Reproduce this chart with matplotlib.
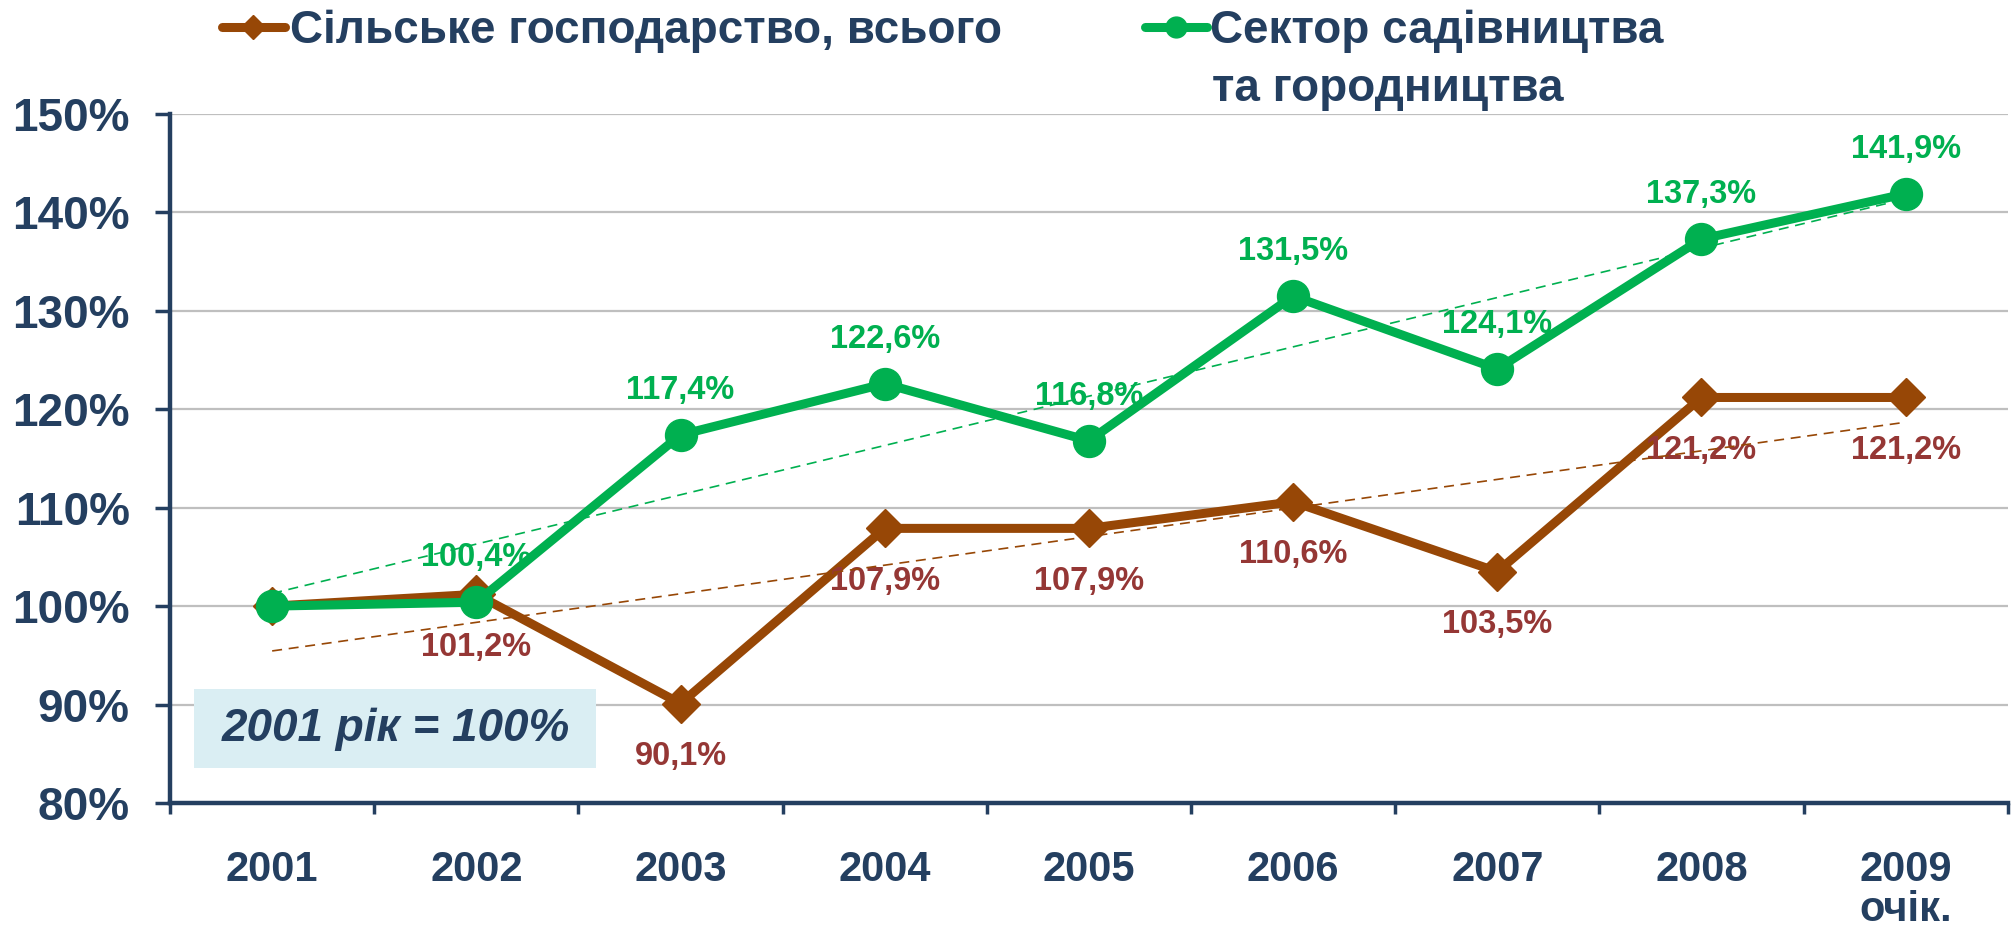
import numpy as np
import matplotlib
matplotlib.use("Agg")
from matplotlib import pyplot as plt
from matplotlib.lines import Line2D
from matplotlib.patches import Rectangle

plt.rcParams['font.family'] = ['Liberation Sans', 'DejaVu Sans']

# Data
years = ["2001", "2002", "2003", "2004", "2005", "2006", "2007", "2008", "2009\nочік."]
agri_total = [100.0, 101.2, 90.1, 107.9, 107.9, 110.6, 103.5, 121.2, 121.2]
horti = [100.0, 100.4, 117.4, 122.6, 116.8, 131.5, 124.1, 137.3, 141.9]
agri_labels = ["", "101,2%", "90,1%", "107,9%", "107,9%", "110,6%", "103,5%", "121,2%", "121,2%"]
horti_labels = ["", "100,4%", "117,4%", "122,6%", "116,8%", "131,5%", "124,1%", "137,3%", "141,9%"]
series_names = ["Сільське господарство, всього", "Сектор садівництва", "та городництва"]
y_ticks = [80, 90, 100, 110, 120, 130, 140, 150]

navy = '#243F60'
brown = '#974706'
brown_txt = '#953735'
green = '#00B050'

fig = plt.figure(figsize=(20.15, 9.27), dpi=100)
ax = fig.add_axes([0.0844, 0.1338, 0.912, 0.7432])

x = np.arange(len(years))

# gridlines
ax.set_ylim(80, 150)
ax.set_xlim(-0.5, len(years) - 0.5)
ax.set_yticks(y_ticks)
ax.set_yticklabels([f"{v}%" for v in y_ticks])
ax.yaxis.grid(True, color='#BFBFBF', lw=1.6)
ax.set_axisbelow(True)

# main lines
ax.plot(x, agri_total, color=brown, lw=6.5, marker='D', ms=19, zorder=3)
ax.plot(x, horti, color=green, lw=6.5, marker='o', ms=23, zorder=4)

# data labels
for xi, yi, lab in zip(x, horti, horti_labels):
    if lab:
        ax.annotate(lab, (xi, yi), xytext=(0, 32), textcoords='offset points',
                    ha='center', va='center', color=green, fontsize=23.5,
                    fontweight='bold', zorder=5)
for xi, yi, lab in zip(x, agri_total, agri_labels):
    if lab:
        ax.annotate(lab, (xi, yi), xytext=(0, -38), textcoords='offset points',
                    ha='center', va='center', color=brown_txt, fontsize=23.5,
                    fontweight='bold', zorder=5)

# linear trend lines
for ys, col in [(agri_total, brown), (horti, green)]:
    k, b = np.polyfit(x, ys, 1)
    ax.plot(x, k * x + b, color=col, lw=1.2, ls=(0, (6, 4)), zorder=6)

# axes styling
for s in ['top', 'right']:
    ax.spines[s].set_visible(False)
for s in ['left', 'bottom']:
    ax.spines[s].set_color(navy)
    ax.spines[s].set_linewidth(3.2)
ax.tick_params(axis='y', colors=navy, length=11, width=2.5, pad=18,
               labelsize=33)
for t in ax.get_yticklabels():
    t.set_fontweight('bold')

ax.set_xticks(x)
ax.set_xticklabels(years, fontsize=30, fontweight='bold', color=navy,
                   linespacing=0.98)
ax.set_xticks(np.arange(-0.5, len(years)), minor=True)
ax.tick_params(axis='x', which='major', length=0, pad=34)
ax.tick_params(axis='x', which='minor', length=8, width=2.5, color=navy)

# base year box
ax.add_patch(Rectangle((0.013, 0.051), 0.219, 0.114, transform=ax.transAxes,
                       facecolor='#DAEEF3', edgecolor='none', zorder=2))
ax.text(0.123, 0.108, "2001 рік = 100%", transform=ax.transAxes, ha='center',
        va='center', fontsize=33, fontweight='bold', fontstyle='italic',
        color=navy, zorder=3)

# legend drawn by hand
fig.add_artist(Line2D([222 / 2015, 285 / 2015], [1 - 27 / 927] * 2, color=brown,
                      lw=6.5, solid_capstyle='round'))
fig.add_artist(Line2D([253.5 / 2015], [1 - 27 / 927], color=brown, marker='D',
                      ms=12, ls=''))
fig.add_artist(Line2D([1145 / 2015, 1207 / 2015], [1 - 27 / 927] * 2, color=green,
                      lw=6.5, solid_capstyle='round'))
fig.add_artist(Line2D([1176 / 2015], [1 - 27 / 927], color=green, marker='o',
                      ms=15, ls=''))
fig.text(290 / 2015, 1 - 43 / 927, series_names[0], fontsize=33,
         fontweight='bold', color=navy, va='baseline', ha='left')
fig.text(1210 / 2015, 1 - 43 / 927, series_names[1], fontsize=33,
         fontweight='bold', color=navy, va='baseline', ha='left')
fig.text(1212 / 2015, 1 - 101 / 927, series_names[2], fontsize=33,
         fontweight='bold', color=navy, va='baseline', ha='left')

fig.savefig("out.png", dpi=100)
